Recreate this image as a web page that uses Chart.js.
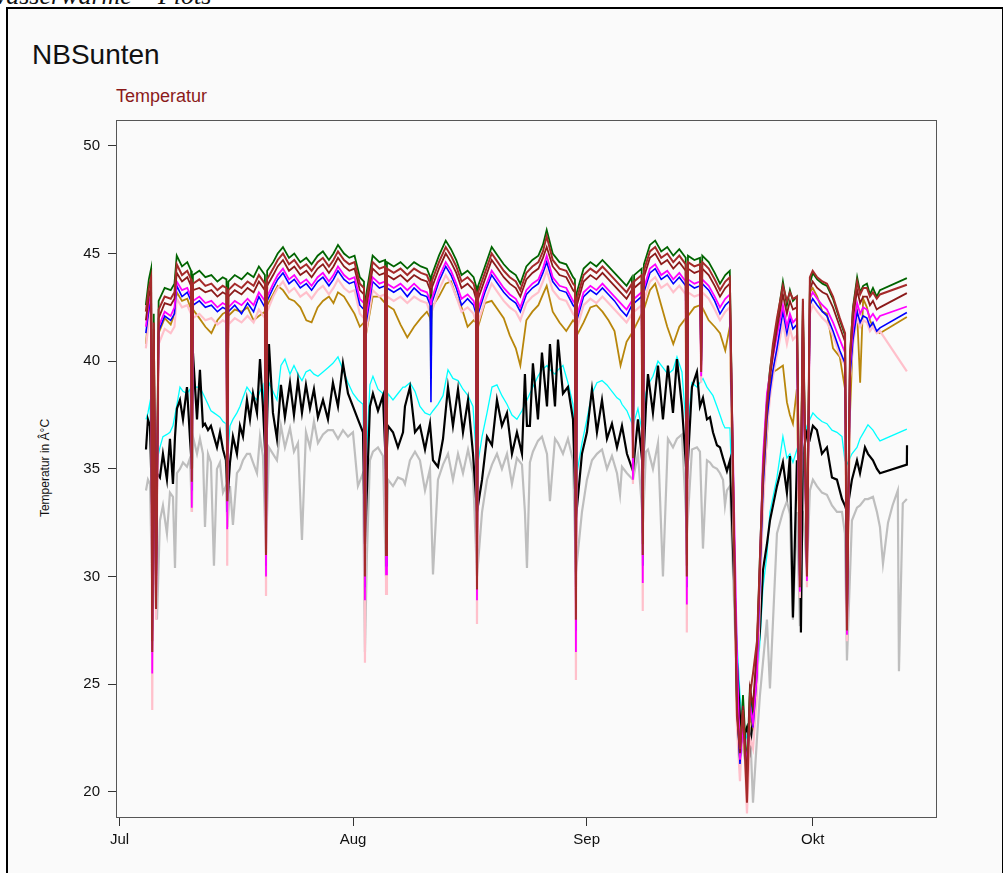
<!DOCTYPE html>
<html><head><meta charset="utf-8">
<script src="https://cdn.jsdelivr.net/npm/chart.js@4.4.1/dist/chart.umd.min.js"></script>
<style>
html,body{margin:0;padding:0;background:#fff;}
body{width:1003px;height:873px;position:relative;overflow:hidden;font-family:"Liberation Sans",Arial,sans-serif;}
#frame{position:absolute;left:6px;top:7px;width:994px;height:900px;border:2px solid #000;background:#fafafa;}
#cut{position:absolute;left:-40px;top:-19px;font:italic 26px "Liberation Serif",serif;color:#111;white-space:nowrap;}
#title{position:absolute;left:32px;top:41px;font-size:28px;line-height:1;color:#111;}
#sub{position:absolute;left:116px;top:87px;font-size:18px;line-height:1;color:#8b1a1a;}
#ylab{position:absolute;left:45px;top:468px;transform:translate(-50%,-50%) rotate(-90deg);font-size:12px;line-height:1;white-space:nowrap;color:#111;}
#wrap{position:absolute;left:0;top:0;width:1003px;height:873px;}
</style></head>
<body>
<div id="cut">Abwasserwärme – Plots</div>
<div id="frame"></div>
<div id="title">NBSunten</div>
<div id="sub">Temperatur</div>
<div id="ylab">Temperatur in Â°C</div>
<div id="wrap"><canvas id="c" width="1003" height="873"></canvas></div>
<script>
// ---- axis ticks ----
const monthTicks = [0, 31, 62, 92];
const monthLabels = ['Jul', 'Aug', 'Sep', 'Okt'];
const yTicks = [20, 25, 30, 35, 40, 45, 50];

// ---- upper group (days since 1 Jul) ----
const upperDays = [
3.5,3.9,4.2,4.35,4.55,4.85,5.2,6.0,6.8,7.3,
7.6,8.3,9.0,9.5,9.6,9.75,10.6,11.4,12.2,13.0,
13.7,14.2,14.3,14.45,15.3,16.2,17.0,17.8,18.5,19.3,
19.45,19.6,20.4,21.0,21.7,22.5,23.2,24.0,24.8,25.5,
26.3,27.0,27.8,28.4,29.0,29.8,30.5,31.2,31.9,32.45,
32.58,32.7,33.6,34.5,35.25,35.38,35.5,36.4,37.3,38.2,
39.1,40.0,40.8,41.25,41.34,41.45,42.4,43.3,44.0,44.7,
45.4,46.2,47.0,47.32,47.45,47.6,48.5,49.4,50.2,51.0,
51.8,52.6,53.2,54.0,54.8,55.6,56.2,56.7,57.5,58.4,
59.3,60.2,60.45,60.58,60.7,61.6,62.5,63.3,64.1,64.9,
65.7,66.5,67.3,68.0,68.15,68.3,69.3,69.45,69.6,70.4,
71.1,71.9,72.7,73.5,74.3,75.15,75.3,75.45,76.3,77.05,
77.2,77.35,78.2,79.0,79.7,80.4,81.0,81.95,82.35,82.75,
83.28,83.68,84.08,84.61,85.0,85.4,85.93,86.33,86.73,87.26,
88.05,88.58,88.98,89.38,89.9,90.3,90.7,91.24,91.63,92.0,
92.6,93.3,93.9,94.7,95.6,96.3,96.55,96.95,97.35,97.9,
98.3,98.7,99.2,99.6,100.0,100.5,100.93,104.5];

const greenVals = [
42.6,43.8,44.3,27.5,42.2,29.5,42.8,43.4,43.3,43.6,
44.9,44.4,44.6,44.2,35.5,44.0,44.2,43.9,44.0,43.7,
43.9,43.8,34.5,43.7,44.0,43.8,44.1,43.9,44.4,44.0,
32.0,44.2,44.6,45.0,45.3,44.8,45.0,44.6,44.8,44.5,
44.9,45.1,44.7,45.0,45.4,45.0,44.8,44.9,43.9,43.7,
31.0,43.0,44.9,44.6,44.7,32.0,44.6,44.4,44.6,44.3,
44.6,44.4,44.3,43.9,39.2,44.0,44.9,45.6,45.2,44.7,
44.0,44.2,43.9,43.5,30.5,43.5,44.4,45.3,44.9,44.5,
44.2,44.0,43.6,44.4,44.7,44.9,45.4,46.1,45.0,44.6,
44.5,43.9,43.8,29.0,43.2,44.3,44.6,44.4,44.7,44.4,
44.1,43.8,43.5,43.9,36.0,44.0,44.3,32.0,44.5,45.4,
45.6,45.1,45.3,44.9,45.2,44.8,31.0,44.9,44.7,44.8,
40.0,44.9,44.6,44.1,43.6,44.0,44.2,24.0,21.5,24.5,
21.0,25.0,23.5,26.5,31.0,35.0,38.2,39.6,40.6,41.8,
43.7,42.6,43.3,42.8,43.0,30.0,42.8,30.5,43.6,44.1,
43.8,43.6,43.5,42.9,41.9,41.2,28.0,40.2,42.5,43.9,
43.2,43.5,43.6,43.1,43.4,43.0,43.3,43.86];

const brownVals = [
42.3,43.4,43.9,26.5,41.8,28.5,42.4,43.0,42.9,43.2,
44.5,44.0,44.2,43.8,34.4,43.6,43.8,43.5,43.6,43.3,
43.5,43.4,33.5,43.3,43.6,43.4,43.7,43.5,44.0,43.6,
31.0,43.8,44.3,44.7,45.0,44.5,44.7,44.3,44.5,44.2,
44.6,44.8,44.4,44.7,45.1,44.7,44.5,44.6,43.6,43.4,
30.0,42.7,44.6,44.3,44.4,31.0,44.3,44.1,44.3,44.0,
44.3,44.1,44.0,43.6,43.4,43.7,44.6,45.3,44.9,44.4,
43.7,43.9,43.6,43.2,29.4,43.2,44.1,45.0,44.6,44.2,
43.9,43.7,43.3,44.1,44.4,44.6,45.1,45.8,44.7,44.3,
44.2,43.6,43.5,28.0,42.9,44.0,44.3,44.1,44.4,44.1,
43.8,43.5,43.2,43.6,35.5,43.7,44.0,31.0,44.2,45.1,
45.3,44.8,45.0,44.6,44.9,44.5,30.0,44.6,44.4,44.5,
39.5,44.6,44.3,43.8,43.3,43.7,43.9,23.5,22.0,23.8,
19.5,24.5,25.5,27.0,30.8,34.8,38.0,39.5,40.8,42.0,
43.5,42.8,43.2,42.9,43.0,29.5,42.9,30.0,43.9,44.2,
43.9,43.7,43.6,43.0,42.0,41.3,27.5,40.3,42.4,43.7,
43.1,43.4,43.4,43.0,43.2,42.9,43.1,43.55];

const darkredVals = [
41.9,43.0,43.5,27.0,41.5,29.0,42.0,42.7,42.6,42.9,
44.1,43.7,43.9,43.5,35.0,43.3,43.4,43.2,43.3,43.0,
43.2,43.1,34.0,43.0,43.3,43.1,43.4,43.2,43.7,43.3,
31.5,43.5,44.0,44.4,44.7,44.2,44.4,44.0,44.2,43.9,
44.3,44.5,44.1,44.4,44.8,44.4,44.2,44.3,43.3,43.1,
30.5,42.4,44.3,44.0,44.1,31.5,44.0,43.8,44.0,43.7,
44.0,43.8,43.7,43.3,43.1,43.4,44.3,45.0,44.6,44.1,
43.4,43.6,43.3,42.9,30.0,42.9,43.8,44.7,44.3,43.9,
43.6,43.4,43.0,43.8,44.1,44.3,44.8,45.3,44.4,44.0,
43.9,43.3,43.2,28.5,42.6,43.7,44.0,43.8,44.1,43.8,
43.5,43.2,42.9,43.3,35.8,43.4,43.7,31.5,43.9,44.8,
45.0,44.5,44.7,44.3,44.6,44.2,30.5,44.3,44.1,44.2,
39.8,44.3,44.0,43.5,43.0,43.4,43.6,24.0,21.8,24.0,
20.5,24.8,24.0,26.8,30.5,34.5,37.8,39.2,40.3,41.5,
43.1,42.2,42.8,42.4,42.5,29.8,42.4,30.2,43.3,43.7,
43.4,43.2,43.1,42.5,41.6,40.9,27.8,40.0,42.0,43.3,
42.7,43.0,43.0,42.6,42.8,42.4,42.5,43.16];

const magentaVals = [
41.6,42.7,43.1,25.5,41.0,28.5,41.6,42.3,42.1,42.5,
43.7,43.3,43.4,43.0,33.2,42.8,43.0,42.7,42.8,42.5,
42.7,42.6,32.2,42.5,42.8,42.6,42.9,42.6,43.2,42.8,
30.0,43.0,43.6,44.0,44.3,43.8,44.0,43.6,43.8,43.5,
43.9,44.1,43.7,44.0,44.4,44.0,43.8,43.9,42.9,42.7,
28.9,42.0,43.9,43.6,43.7,30.1,43.6,43.4,43.6,43.3,
43.6,43.3,43.2,42.8,42.6,42.9,43.9,44.6,44.2,43.6,
42.9,43.1,42.8,42.4,28.9,42.4,43.4,44.2,43.8,43.4,
43.1,42.9,42.5,43.3,43.6,43.8,44.3,44.9,43.9,43.5,
43.4,42.8,42.7,26.5,42.1,43.2,43.5,43.3,43.6,43.3,
43.0,42.7,42.4,42.8,34.5,42.9,43.2,29.7,43.4,44.3,
44.5,44.0,44.2,43.8,44.1,43.7,28.7,43.8,43.6,43.7,
39.3,43.8,43.5,43.0,42.5,42.9,43.1,26.5,21.5,23.0,
21.2,24.0,23.2,25.5,30.6,35.5,38.5,39.4,40.2,41.2,
42.6,41.6,42.2,41.8,42.0,29.3,41.9,29.8,42.9,43.2,
42.9,42.6,42.4,41.8,41.0,40.4,27.3,39.8,41.5,42.7,
42.2,42.5,42.4,42.0,42.2,41.9,42.1,42.54];

const blueVals = [
41.3,42.4,42.9,26.5,40.8,29.0,41.4,42.1,41.9,42.2,
43.5,43.0,43.2,42.8,34.0,42.6,42.8,42.5,42.6,42.3,
42.5,42.4,33.0,42.3,42.6,42.2,42.7,42.3,43.0,42.5,
30.5,42.8,43.4,43.8,44.1,43.6,43.8,43.4,43.6,43.3,
43.7,43.9,43.5,43.8,44.2,43.8,43.6,43.7,42.6,42.4,
29.5,41.7,43.7,43.4,43.5,30.5,43.4,43.2,43.4,43.0,
43.4,43.1,43.0,42.6,38.1,42.7,43.7,44.4,44.0,43.4,
42.6,42.9,42.6,42.2,29.5,42.2,43.2,44.0,43.6,43.2,
42.9,42.7,42.3,43.1,43.4,43.6,44.1,44.6,43.7,43.3,
43.2,42.6,42.5,27.5,41.9,43.0,43.3,43.1,43.4,43.1,
42.8,42.4,42.1,42.6,35.0,42.7,43.0,30.5,43.2,44.1,
44.3,43.8,44.0,43.6,43.9,43.5,29.5,43.6,43.4,43.5,
39.5,43.6,43.3,42.8,42.2,42.6,42.8,24.0,21.3,23.5,
20.6,24.2,23.0,25.5,30.0,34.0,37.3,38.6,39.6,40.6,
42.3,41.3,42.0,41.5,41.7,29.6,41.6,30.0,42.6,42.9,
42.6,42.3,42.1,41.4,40.5,39.9,27.6,39.3,41.0,42.3,
41.8,42.1,42.0,41.6,41.8,41.4,41.55,42.26];

const pinkVals = [
40.6,41.9,42.3,23.8,40.3,28.0,40.8,41.5,41.3,41.6,
42.9,42.5,42.6,42.2,33.0,42.0,42.2,41.9,42.0,41.7,
41.9,41.8,30.5,41.7,42.0,41.8,42.1,41.8,42.4,42.0,
29.1,42.3,43.0,43.4,43.7,43.2,43.4,43.0,43.2,42.9,
43.3,43.5,43.1,43.4,43.8,43.4,43.2,43.3,42.2,42.0,
26.0,41.3,43.3,43.0,43.1,29.2,43.0,42.8,43.0,42.7,
43.0,42.8,42.7,42.2,42.0,42.3,43.3,44.0,43.6,43.0,
42.3,42.5,42.2,41.8,27.8,41.8,42.8,43.6,43.2,42.8,
42.5,42.3,41.9,42.7,43.0,43.2,43.7,44.2,43.3,42.9,
42.8,42.2,42.1,25.2,41.5,42.6,42.9,42.7,43.0,42.7,
42.4,42.1,41.8,42.2,34.3,42.3,42.6,28.4,42.8,43.7,
43.9,43.4,43.6,43.2,43.5,43.1,27.4,43.2,43.0,43.1,
39.0,43.2,42.9,42.4,41.9,42.3,42.5,23.0,20.5,24.0,
19.0,22.5,22.0,24.5,29.0,33.0,36.8,38.3,39.3,40.3,
41.8,40.8,41.5,41.0,41.2,29.0,41.2,29.5,42.2,42.6,
42.3,42.0,41.8,41.2,40.3,39.8,27.0,39.2,40.8,42.0,
41.6,41.9,41.8,41.4,41.6,41.3,41.4,39.53];

const goldVals = [
40.8,42.3,42.8,27.0,40.8,29.5,41.3,42.0,41.7,42.2,
43.2,42.8,42.9,42.4,35.0,42.4,42.0,41.6,41.3,41.9,
42.2,42.3,34.0,42.1,42.4,42.3,42.5,41.9,42.1,42.3,
31.5,42.6,43.1,43.5,43.3,42.9,42.8,42.5,41.9,41.8,
42.5,42.8,43.0,42.7,43.2,43.0,42.6,42.2,41.6,41.8,
30.0,41.2,43.0,43.0,42.7,31.0,42.6,42.4,41.7,41.1,
41.6,42.0,42.3,42.0,41.8,42.5,43.0,43.6,43.7,43.0,
42.5,41.6,41.9,41.8,30.0,41.6,42.7,42.8,42.4,42.0,
41.2,40.6,39.8,41.9,42.3,42.6,43.1,43.5,42.3,41.8,
41.4,41.9,41.8,28.5,41.2,41.8,42.5,42.6,42.3,41.9,
41.4,39.8,40.9,41.3,36.0,41.5,42.2,31.0,42.4,43.3,
43.6,42.6,41.6,40.8,41.6,42.0,30.5,42.1,42.5,42.6,
40.0,42.5,41.9,41.6,41.3,40.5,41.6,23.5,22.0,22.6,
20.8,23.5,23.0,25.5,30.0,33.5,36.5,39.0,39.5,39.6,
39.8,38.1,37.5,37.1,38.7,30.0,42.2,30.5,43.2,43.4,
43.0,42.3,42.2,40.6,40.2,38.7,28.0,37.5,41.2,42.2,
39.0,42.9,42.5,41.9,41.6,41.4,41.3,42.05];

// ---- lower group ----
const lowerDays = [
3.52,3.78,4.05,4.31,4.45,4.71,4.98,5.37,5.77,6.30,
6.70,7.10,7.37,7.63,8.03,8.43,8.96,9.36,9.62,9.75,
10.29,10.68,11.08,11.35,11.75,12.14,12.54,12.94,13.34,13.74,
14.13,14.33,14.67,15.06,15.59,15.99,16.39,16.92,17.32,17.72,
18.25,18.65,19.04,19.44,19.84,20.37,20.90,21.43,21.96,22.63,
23.16,23.69,24.22,24.75,25.28,25.81,26.34,27.01,27.67,28.33,
29.0,29.66,30.33,30.99,31.65,32.32,32.58,32.84,33.24,33.64,
34.31,34.97,35.37,35.63,36.3,36.96,37.63,37.89,38.55,39.22,
39.88,40.55,41.21,41.61,42.27,42.94,43.6,44.26,44.93,45.59,
46.26,46.92,47.45,48.12,48.78,49.44,50.1,50.76,51.43,52.09,
52.75,53.42,53.81,54.08,54.47,54.87,55.54,56.07,56.74,57.13,
57.8,58.2,58.86,59.52,60.19,60.58,61.38,62.04,62.71,63.37,
64.04,64.7,65.36,66.03,66.43,66.69,67.35,68.15,68.81,69.48,
69.87,70.14,70.8,71.47,72.13,72.79,73.46,73.99,74.65,75.31,
75.98,76.64,77.04,77.44,77.97,78.37,78.77,79.3,79.7,80.1,
80.36,80.62,81.02,81.95,82.35,82.75,83.28,83.68,84.08,84.61,
85.0,85.4,85.93,86.33,87.26,88.05,88.58,88.98,89.38,89.91,
90.31,90.44,90.7,91.24,91.63,92.03,92.56,93.23,93.89,94.56,
95.22,95.89,96.28,96.55,97.21,97.88,98.28,98.94,99.34,100.0,
100.53,100.93,101.33,102.0,102.6,103.3,103.45,103.96,104.5,104.52];

const blackVals = [
35.9,37.3,37.0,33.5,32.0,34.0,34.8,34.6,35.7,34.5,
36.4,34.3,36.5,37.8,38.2,37.3,38.8,36.4,35.0,40.4,
37.3,39.6,37.0,37.1,36.8,37.0,36.5,36.0,36.7,35.9,
35.4,33.5,35.3,36.5,35.7,37.0,36.5,38.2,37.3,38.5,
37.6,40.1,37.9,35.0,40.8,37.6,36.4,38.9,37.4,39.0,
37.5,39.1,37.6,38.9,37.8,38.7,37.4,38.2,37.3,39.0,
37.9,39.9,38.5,37.9,37.3,36.7,31.5,34.0,37.9,38.5,
37.7,38.4,35.0,37.0,36.7,36.0,36.7,37.9,38.8,36.7,
37.0,35.9,37.1,35.4,35.1,36.4,38.8,37.0,38.7,36.7,
38.2,35.7,33.0,34.5,36.5,36.1,38.2,37.0,37.6,35.7,
36.7,35.7,39.4,37.0,37.0,39.9,37.3,40.4,37.9,40.8,
37.9,41.0,38.5,38.8,37.3,32.7,35.7,36.7,38.7,36.7,
38.2,36.4,37.1,36.0,36.6,37.0,35.7,34.9,37.3,35.0,
37.9,39.4,37.6,39.8,37.3,39.8,37.6,40.1,37.9,34.5,
38.8,39.5,37.9,38.3,37.3,37.4,36.7,36.1,36.0,35.5,
35.2,34.9,35.4,26.0,23.5,22.5,23.0,22.0,23.5,26.0,
27.5,30.3,31.5,32.6,34.2,35.3,33.9,35.6,28.1,35.4,
34.0,27.4,35.7,36.7,36.4,37.0,36.8,35.7,36.0,34.6,
34.5,33.6,33.3,33.0,34.5,35.4,34.8,36.0,35.7,35.4,
35.0,34.8,null,null,null,null,null,null,35.2,36.1];

const cyanVals = [
37.3,37.6,38.1,34.0,33.5,35.0,35.4,36.0,36.5,36.6,
36.7,37.0,37.5,38.0,38.8,38.6,38.5,38.7,37.0,38.8,
38.8,38.8,38.5,38.3,38.0,37.7,37.6,37.5,37.4,37.2,
37.1,35.5,37.0,37.3,37.6,37.9,38.3,38.8,38.6,38.4,
38.2,38.6,38.9,36.5,39.0,38.6,38.2,39.8,40.1,39.4,
39.8,39.4,39.1,39.5,39.6,39.4,39.3,39.5,39.7,39.9,
40.2,39.6,39.0,38.5,38.2,38.0,33.0,36.0,38.9,39.3,
38.7,38.5,36.0,38.5,38.2,38.5,38.8,38.8,39.0,38.6,
37.9,37.6,37.5,37.7,38.0,38.4,39.6,39.2,39.1,38.7,
38.4,37.9,35.0,36.5,37.6,38.8,38.9,38.4,38.0,37.5,
37.3,37.7,38.0,38.2,38.5,38.8,39.3,39.6,39.8,39.6,
39.4,39.6,39.8,39.0,38.0,34.5,36.2,37.3,38.5,39.0,
39.1,38.9,38.6,38.3,38.2,38.0,37.7,37.0,37.8,36.5,
38.5,38.9,39.3,40.0,39.7,39.4,39.6,40.2,39.5,36.5,
39.0,38.8,39.0,39.2,38.8,38.6,38.4,37.9,37.5,37.1,
36.9,36.9,36.9,27.0,24.5,23.0,22.5,23.8,23.0,25.0,
27.0,29.5,31.0,33.0,34.6,36.5,35.5,35.7,35.3,35.9,
35.5,35.6,35.7,37.0,37.3,37.6,37.4,37.2,37.1,36.8,
36.7,36.5,35.4,35.2,35.7,36.0,36.4,36.8,37.05,36.8,
36.5,36.3,null,null,null,null,null,null,36.85,null];

const grayVals = [
34.0,34.5,34.3,30.0,28.5,31.5,28.0,32.6,33.3,32.0,
33.9,33.7,30.4,34.8,35.0,35.3,35.1,35.5,33.0,36.5,
35.7,36.4,35.7,32.3,35.7,35.3,30.5,35.0,35.3,33.9,
34.2,32.3,34.2,32.4,34.8,35.0,35.4,35.7,35.7,35.3,
34.8,36.5,35.6,31.0,36.0,35.7,35.4,37.0,36.0,36.9,
35.8,36.2,31.7,36.7,36.0,37.2,36.2,36.6,36.8,36.8,
36.4,36.8,36.5,36.7,34.2,34.8,26.5,31.0,35.4,35.8,
36.0,35.6,30.0,34.5,34.2,34.6,34.5,34.3,35.4,35.8,
35.4,34.0,35.0,30.1,34.5,35.2,35.7,34.5,35.7,34.8,
35.9,34.8,30.0,33.0,34.5,35.2,35.7,35.0,35.7,34.3,
35.5,35.2,33.0,30.4,35.3,35.8,36.3,36.5,35.7,33.5,
36.4,36.2,35.7,36.4,35.4,30.2,33.0,34.5,35.4,35.7,
35.9,35.0,35.6,34.8,33.8,35.1,34.8,34.5,35.7,32.5,
35.8,35.9,35.0,36.2,30.0,36.4,36.0,36.4,36.6,32.0,
35.9,36.0,35.8,31.3,35.4,35.3,35.1,35.0,34.8,34.5,
33.3,34.0,34.2,25.0,22.5,22.0,21.0,23.0,19.5,22.5,
24.5,26.0,28.0,24.8,32.0,33.0,33.5,32.9,28.0,33.0,
27.7,33.0,33.0,30.3,34.0,34.5,34.2,33.9,33.8,33.3,
33.0,33.0,32.0,26.1,32.6,33.2,33.3,33.6,33.6,33.7,
33.0,32.3,30.6,32.5,33.3,34.0,25.6,33.4,33.6,null];

// ---- build chart ----
function pts(days, vals) { return days.map((d, i) => ({ x: d, y: vals[i] })); }
function ds(label, days, vals, color, w) {
  return { label, data: pts(days, vals), borderColor: color, backgroundColor: color,
    borderWidth: w, pointRadius: 0, tension: 0, spanGaps: true, fill: false };
}

const boxPlugin = {
  id: 'box',
  afterDatasetsDraw(chart) {
    const { ctx, chartArea: a } = chart;
    ctx.save();
    ctx.strokeStyle = '#555';
    ctx.lineWidth = 1;
    ctx.strokeRect(a.left + 0.5, a.top + 0.5, a.right - a.left - 1, a.bottom - a.top - 1);
    ctx.restore();
  }
};

Chart.defaults.font.family = '"Liberation Sans", Arial, sans-serif';

new Chart(document.getElementById('c'), {
  type: 'line',
  data: {
    datasets: [
      ds('brown', upperDays, brownVals, '#A52A2A', 2),
      ds('darkred', upperDays, darkredVals, '#8B1A1A', 1.8),
      ds('magenta', upperDays, magentaVals, '#FF00FF', 1.8),
      ds('blue', upperDays, blueVals, '#0000FF', 1.6),
      ds('green', upperDays, greenVals, '#006400', 1.8),
      ds('pink', upperDays, pinkVals, '#FFC0CB', 2.2),
      ds('goldenrod', upperDays, goldVals, '#B8860B', 1.8),
      ds('black', lowerDays, blackVals, '#000000', 2.2),
      ds('cyan', lowerDays, cyanVals, '#00FFFF', 1.3),
      ds('gray', lowerDays, grayVals, '#BEBEBE', 2.2)
    ]
  },
  options: {
    responsive: false,
    animation: false,
    devicePixelRatio: 1,
    layout: { padding: { left: 0, top: 120, right: 66, bottom: 0 } },
    plugins: { legend: { display: false }, tooltip: { enabled: false }, title: { display: false } },
    scales: {
      x: {
        type: 'linear', min: -0.46, max: 108.5,
        afterBuildTicks: s => { s.ticks = monthTicks.map(v => ({ value: v })); },
        afterFit: s => { s.height = 55; },
        ticks: { callback: v => monthLabels[monthTicks.indexOf(v)], color: '#111',
          font: { size: 15 }, padding: 5, maxRotation: 0, autoSkip: false },
        grid: { drawOnChartArea: false, drawTicks: true, tickLength: 8, color: '#333' },
        border: { display: false }
      },
      y: {
        type: 'linear', min: 18.79, max: 51.2,
        afterBuildTicks: s => { s.ticks = yTicks.map(v => ({ value: v })); },
        afterFit: s => { s.width = 116; },
        ticks: { color: '#111', font: { size: 15 }, padding: 8 },
        grid: { drawOnChartArea: false, drawTicks: true, tickLength: 8, color: '#333' },
        border: { display: false }
      }
    }
  },
  plugins: [boxPlugin]
});
</script>
</body></html>
